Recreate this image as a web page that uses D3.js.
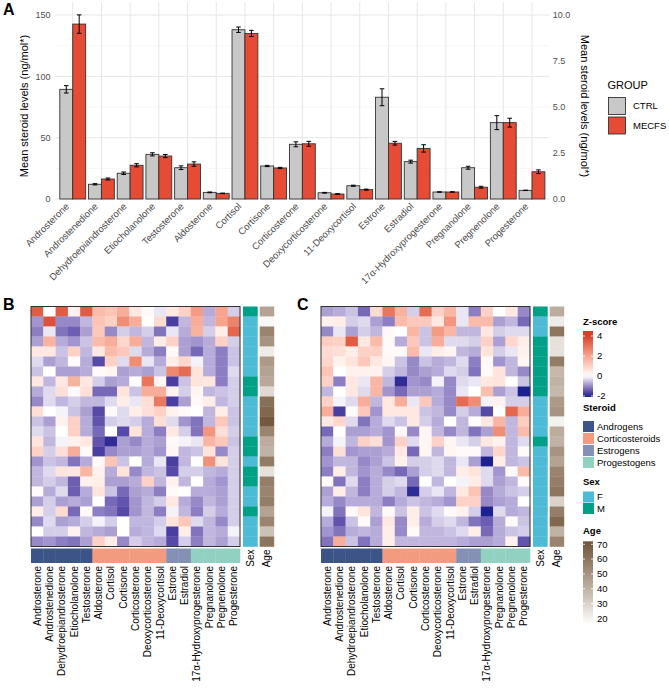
<!DOCTYPE html>
<html><head><meta charset="utf-8">
<script src="https://cdn.jsdelivr.net/npm/d3@7"></script>
<style>body{margin:0;background:#fff;} text{font-family:"Liberation Sans",Arial,Helvetica,sans-serif;}</style>
</head><body>
<script>
// ---------- DATA ----------
const steroids = ["Androsterone","Androstenedione","Dehydroepiandrosterone","Etiocholanolone","Testosterone","Aldosterone","Cortisol","Cortisone","Corticosterone","Deoxycorticosterone","11-Deoxycortisol","Estrone","Estradiol","17α-Hydroxyprogesterone","Pregnanolone","Pregnenolone","Progesterone"];
const groups = ["CTRL","MECFS"];
// secondary axis (ng/mol*, right) for the low-level steroids
const onRightAxis = [0,0,0,0,0,0,0,0,0,1,1,1,1,1,1,1,1];
const ctrlMean = [89.4,12.0,21.0,36.4,25.5,5.4,138,26.9,44.6, 0.34,0.72,5.53,2.03,0.38,1.70,4.15,0.47];
const ctrlErr  = [3.0,0.5,1.0,1.3,1.5,0.3,2.2,0.5,2.0, 0.02,0.03,0.46,0.08,0.01,0.08,0.38,0.01];
const mecfsMean= [142.6,16.3,27.5,35.0,28.5,4.6,135,25.3,45.0, 0.27,0.51,3.03,2.75,0.38,0.64,4.15,1.48];
const mecfsErr = [7.5,0.8,1.3,1.3,1.8,0.2,2.5,0.5,2.0, 0.02,0.03,0.10,0.20,0.01,0.05,0.24,0.10];
const leftTicks = [0,50,100,150];
const leftMinor = [25,75,125];
const rightTicks = [0,2.5,5,7.5,10];

const steroidClass = ["Androgens","Androgens","Androgens","Androgens","Androgens","Corticosteroids","Corticosteroids","Corticosteroids","Corticosteroids","Corticosteroids","Corticosteroids","Estrogens","Estrogens","Progestogens","Progestogens","Progestogens","Progestogens"];
const classNames = ["Androgens","Corticosteroids","Estrogens","Progestogens"];
const sexNames = ["F","M"];
const zTicks = [4,2,0,-2];
const ageTicks = [70,60,50,40,30,20];

const zB = [
[3.5,0,3.5,0.3,3.5,1.5,1.3,1.8,0.5,0.1,-0.2,0.5,1.0,2.2,-0.7,2.0,-0.4],
[-0.9,3.7,-1.0,-1.0,-0.6,1.3,1.0,2.5,1.8,0,0.8,-1.7,-0.6,1.8,-0.6,2.0,2.7],
[-1.1,-0.2,-1.2,-1.4,-0.8,1.2,-1.0,-0.4,-0.6,-0.4,-1.2,-0.2,-0.7,1.7,-0.4,0.4,3.3],
[-0.8,1.7,-0.7,-0.9,-0.5,1.5,1.8,0.9,1.8,-0.6,0.4,1.0,-0.8,-0.9,-0.7,1.0,-0.4],
[0.5,0.5,-0.5,1.0,-0.6,0.5,1.5,1.2,-0.3,-0.7,-1.1,0.1,-0.8,-1.3,-0.7,-1.1,-0.5],
[-0.3,-0.8,-0.6,0.1,-0.7,-1.6,1.0,-0.3,2.5,-0.2,-0.7,0.4,0.9,-0.1,-0.7,-1.1,-0.5],
[-0.5,0,-0.8,-0.8,-0.7,0.1,0.2,-0.8,-0.7,-0.8,-0.5,2.6,3.2,0.6,-0.7,-1.1,-0.3],
[0.5,-0.6,0.5,1.7,0.5,-0.4,-0.8,-0.7,0,3.0,0.2,-1.7,-0.5,0.6,0.5,-1.1,-0.4],
[-0.7,-0.3,0.7,0.1,0.7,-1.3,-1.3,0.6,-0.5,1.8,1.8,0.3,-0.4,0.2,-0.6,-0.5,-0.4],
[-1.0,-0.3,-0.6,-0.4,-0.6,-0.6,-0.3,0.4,-0.2,0.7,2.9,-1.7,-0.8,0.1,0.4,-0.6,-0.4],
[0.7,0,-0.1,-0.5,-0.8,-1.6,0.1,-0.3,0.4,0.7,1.0,0.3,0.1,0,-0.6,0.4,-0.5],
[-0.5,-0.8,0.3,1.0,-0.7,-1.5,-0.4,-0.3,-0.4,-0.7,0.7,-0.3,-0.9,-1.2,-0.6,1.2,-0.5],
[-0.3,-0.5,0,1.0,-0.7,-1.3,0,-1.6,0.6,-0.7,-1.1,0.5,-0.4,-1.2,2.3,0.7,-0.4],
[0.6,-0.6,-0.1,0.3,0.5,-1.5,-1.9,-0.8,-1.0,-0.7,-0.8,0.1,-0.1,-0.2,1.6,1.2,-0.5],
[1.0,-0.4,0.7,1.8,0.1,-1.7,-1.0,-0.8,-0.8,-0.7,-0.9,0.2,-0.6,-0.5,0.6,-1.0,-0.4],
[-0.9,-0.5,-0.6,-1.2,-0.7,0.1,1.3,-0.5,0,-0.7,-0.2,-1.7,-0.6,0,2.4,0.6,-0.4],
[-0.6,-0.3,0.6,0.5,1.6,0.3,-0.7,0.6,-1.0,-0.6,-0.5,-1.6,-0.4,-0.4,-0.6,-0.7,-0.4],
[-0.6,-0.4,-0.6,-1.4,0.3,0.4,-0.8,-0.8,-0.7,1.0,-0.6,0.3,-0.6,0,-0.7,-0.9,-0.4],
[0.1,-0.7,-0.3,-1.4,-0.7,0.6,-0.5,-1.3,-0.8,-0.7,-1.1,0.1,0,-0.7,-0.7,-0.8,-0.4],
[-0.8,-0.4,-0.8,-0.7,-0.8,0,-1.3,-1.5,-0.9,-0.6,-0.4,0.5,-0.7,-1.0,-0.6,-0.8,-0.4],
[0.4,-0.4,0.8,-1.3,0.1,-1.1,-1.2,-1.6,-0.9,-0.6,-1.1,-0.1,-0.6,-1.1,-0.4,-0.7,-0.4],
[-1.0,-0.3,-0.8,-0.7,-0.4,-0.1,-0.4,0,-0.6,-0.6,-0.4,0.6,1.2,-0.3,-0.6,-1.0,-0.4],
[0,-0.4,-0.4,0.3,-0.6,-0.7,-0.8,0,-0.7,-0.6,-0.3,-1.7,0.4,-1.2,-0.6,-0.7,-0.1],
[-1.0,-0.9,-1.1,-1.2,-0.8,1.0,0.4,-1.0,-0.4,-0.6,-0.7,-1.6,-0.4,-1.1,-0.6,-0.8,-0.4]
];
const sexB = ["M","F","F","F","F","F","F","M","M","F","F","F","F","M","M","F","M","M","F","F","M","F","F","F"];
const ageB = [45,18,55,50,22,48,45,43,28,62,65,70,55,42,40,58,25,57,55,57,45,55,35,60];

const zC = [
[-0.8,-0.7,-0.5,-1.3,0.8,3.0,1.7,-0.4,3.2,1.0,1.6,-0.2,-1.1,1.0,0,0.5,-1.0],
[0.3,0.4,-0.4,-0.3,-0.8,-1.1,1.5,1.2,1.2,0.5,2.3,-0.2,1.5,1.5,-0.8,-0.6,-1.3],
[-1.0,-0.2,-0.8,-0.4,-0.6,0.1,0,1.6,-0.5,2.2,1.6,-0.6,-0.6,0.5,-0.4,-0.3,-0.3],
[1.1,1.0,3.5,0.5,1.5,0.1,-0.7,1.2,-0.5,1.8,-0.3,-0.3,-0.4,1.0,-0.8,0.9,0.4],
[0.8,0.7,0.4,1.0,1.0,0.1,0.1,1.5,-0.2,0.4,0.2,-0.6,-0.7,0.6,-0.4,-0.2,0.3],
[0.9,0.3,0.6,1.2,0.5,0.2,-0.5,-1.0,-0.5,-0.7,-0.6,-0.3,-1.1,0.1,-0.9,-0.6,0.2],
[1.3,0,0.3,0.3,0.3,-0.4,-0.6,-1.0,-0.8,-0.7,-0.3,-0.4,-1.2,0.1,0.6,-0.6,-1.0],
[1.0,-1.1,0.5,-0.2,1.6,-0.6,-1.9,-0.9,-1.0,-0.1,-1.0,-0.3,-0.2,0.5,0.6,0,-0.5],
[-0.6,0,0.5,-0.3,1.6,-0.9,-1.3,-0.8,-0.8,-0.7,-1.0,-0.2,0,1.4,-0.8,-0.5,-2.1],
[1.0,-0.1,-0.3,1.8,-0.6,0.5,1.8,-0.2,1.2,-0.7,-1.0,3.2,2.5,-0.1,0.3,-0.4,-0.4],
[1.8,-1.7,0.1,1.2,-0.9,0.5,0.5,0.5,-0.5,-0.6,-1.0,-0.4,-0.7,-1.6,0,3.3,1.8],
[0.5,0.9,-0.3,-1.2,-0.7,-0.3,-0.5,0.5,-0.4,-0.7,0,-0.6,0,0.5,1.6,-0.6,1.1],
[-1.3,0,-0.8,-0.8,-0.7,-0.9,0.1,-1.0,0.2,-0.6,-1.0,-0.6,-1.2,-0.8,2.5,-0.6,1.5],
[-0.7,-0.1,-0.6,1.0,0.7,-0.9,1.0,-0.3,0.2,1.0,0.2,-0.2,-0.4,0.5,0.3,-0.6,-0.3],
[-1.1,0.7,-0.9,-0.8,-0.8,-0.7,0.5,-1.3,0.2,-0.6,0.2,0.1,0.1,-0.6,0.9,-0.6,0.1],
[-0.9,-0.6,-0.6,-1.0,-0.8,-0.5,0.3,-0.4,-0.4,-0.3,-0.6,-0.2,-0.8,-2.1,0.4,-0.6,-0.5],
[-1.1,0.4,-0.6,-0.9,-0.7,-1.0,-1.3,-0.8,-0.4,-0.3,-0.6,0.4,0.6,-0.3,-0.9,0.1,1.5],
[0.1,-1.2,-0.3,-1.1,-0.7,-0.4,-0.3,-1.3,0,-0.6,0,-0.1,0.4,-0.3,-0.8,-0.6,0.1],
[-0.8,0.4,-0.6,-1.1,-0.7,-0.4,-0.6,-1.9,-0.4,-0.2,-0.6,0.5,1.3,-1.0,-0.7,-0.5,-0.4],
[-0.7,-1.0,-0.7,-0.7,-0.7,-1.1,-0.7,-0.5,-0.6,-0.7,-0.9,1.0,1.0,-1.0,-0.8,-0.7,0],
[-0.1,-1.2,0.1,0.6,-0.6,0.1,-0.5,0.4,-0.5,-0.3,0.1,0.3,-0.4,-2.1,-0.3,-0.7,-0.6],
[-0.7,-1.5,-0.5,0.1,-0.8,0.5,-1.0,0.4,-0.7,-0.4,-0.3,-0.6,-1.2,-1.4,-0.7,0.1,-0.5],
[-0.9,-1.2,-0.7,-0.6,-0.7,0.4,-1.0,0.1,-0.6,-0.6,-0.5,-0.3,0.4,-1.3,-0.7,-0.5,-0.4],
[-1.2,1.8,-0.5,-1.2,-0.7,0.4,-0.6,-0.6,-0.6,-0.6,-0.6,-0.7,-0.8,-0.8,-0.7,0.3,-1.5]
];
const sexC = ["M","F","F","M","M","M","M","M","M","F","F","F","F","M","F","F","F","F","F","F","F","F","F","F"];
const ageC = [42,22,60,25,25,58,38,40,38,48,50,20,42,40,50,45,55,57,60,30,57,65,40,55];

// ---------- STYLE ----------
const barFill = {CTRL:"#c8c8c8", MECFS:"#E64B35"};
const classColor = d3.scaleOrdinal().domain(classNames).range(["#3C5488","#F39B7F","#8491B4","#91D1C2"]);
const sexColor = d3.scaleOrdinal().domain(sexNames).range(["#4DBBD5","#00A087"]);
const zColor = d3.scaleLinear().domain([-2,0,4]).range(["#1e2290","#ffffff","#d6402b"]).interpolate(d3.interpolateLab).clamp(true);
const ageColor = d3.scaleLinear().domain([16,72]).range(["#ffffff","#6f5438"]).interpolate(d3.interpolateLab).clamp(true);

const svg = d3.select("body").append("svg").attr("width",669).attr("height",689);

// ---------- PANEL A ----------
const x = d3.scaleBand().domain(steroids).range([55.5,549.2]).paddingInner(0.1).paddingOuter(0.15);
const xg = d3.scaleBand().domain(groups).range([0,x.bandwidth()]);
const yL = d3.scaleLinear().domain([0,150]).range([199,15]);
const yR = d3.scaleLinear().domain([0,10]).range([199,15]);
const A = svg.append("g");
const pTop = 2, pBottom = 199;
// grid
A.selectAll(".gmin").data(leftMinor).join("line").attr("x1",55.5).attr("x2",549.2)
  .attr("y1",d=>yL(d)).attr("y2",d=>yL(d)).attr("stroke","#f0f0f0").attr("stroke-width",0.6);
A.selectAll(".gmaj").data(leftTicks).join("line").attr("x1",55.5).attr("x2",549.2)
  .attr("y1",d=>yL(d)).attr("y2",d=>yL(d)).attr("stroke","#e6e6e6").attr("stroke-width",1);
A.selectAll(".gx").data(steroids).join("line").attr("x1",d=>x(d)+x.bandwidth()/2).attr("x2",d=>x(d)+x.bandwidth()/2)
  .attr("y1",pTop).attr("y2",pBottom).attr("stroke","#e6e6e6").attr("stroke-width",1);

// bars
const barData = [];
steroids.forEach((s,i)=>{
  const ys = onRightAxis[i] ? yR : yL;
  barData.push({s, g:"CTRL", v:ctrlMean[i], e:ctrlErr[i], ys});
  barData.push({s, g:"MECFS", v:mecfsMean[i], e:mecfsErr[i], ys});
});
A.selectAll(".bar").data(barData).join("rect")
  .attr("x",d=>x(d.s)+xg(d.g)).attr("width",xg.bandwidth())
  .attr("y",d=>d.ys(d.v)).attr("height",d=>d.ys(0)-d.ys(d.v))
  .attr("fill",d=>barFill[d.g]).attr("stroke","#333").attr("stroke-width",0.9);
const eb = A.selectAll(".eb").data(barData).join("g").attr("stroke","#000").attr("stroke-width",1);
eb.append("line").attr("x1",d=>x(d.s)+xg(d.g)+xg.bandwidth()/2).attr("x2",d=>x(d.s)+xg(d.g)+xg.bandwidth()/2)
  .attr("y1",d=>d.ys(d.v-d.e)).attr("y2",d=>d.ys(d.v+d.e));
[-1,1].forEach(sg=>{
  eb.append("line").attr("x1",d=>x(d.s)+xg(d.g)+xg.bandwidth()/2-2.3).attr("x2",d=>x(d.s)+xg(d.g)+xg.bandwidth()/2+2.3)
    .attr("y1",d=>d.ys(d.v+sg*d.e)).attr("y2",d=>d.ys(d.v+sg*d.e));
});

// axes
const axL = A.append("g").attr("transform","translate(55.5,0)").call(d3.axisLeft(yL).tickValues(leftTicks).tickSize(0).tickPadding(5));
const axR = A.append("g").attr("transform","translate(549.2,0)").call(d3.axisRight(yR).tickValues(rightTicks).tickSize(0).tickPadding(3.5).tickFormat(d3.format(".1f")));
const axB = A.append("g").attr("transform","translate(0,199)").call(d3.axisBottom(x).tickSize(0).tickFormat(""));
[axL,axR,axB].forEach(a=>{a.select(".domain").remove(); a.selectAll("text").attr("fill","#4d4d4d").attr("font-size","9px").attr("font-family","Liberation Sans, Arial, sans-serif");});
A.selectAll(".xl").data(steroids).join("text")
  .attr("transform",d=>`translate(${x(d)+x.bandwidth()/2-3},207) rotate(-45)`)
  .attr("text-anchor","end").attr("font-size","9.5px").attr("fill","#4d4d4d").text(d=>d);

A.append("text").attr("transform","translate(28,106) rotate(-90)").attr("text-anchor","middle")
  .attr("font-size","11px").attr("fill","#000").text("Mean steroid levels (ng/mol*)");
A.append("text").attr("transform","translate(581,106) rotate(90)").attr("text-anchor","middle")
  .attr("font-size","11px").attr("fill","#000").text("Mean steroid levels (ng/mol*)");

// legend
A.append("text").attr("x",607.5).attr("y",89).attr("font-size","11px").text("GROUP");
groups.forEach((g,i)=>{
  A.append("rect").attr("x",608.5).attr("y",97.5+i*19.5).attr("width",17).attr("height",17)
    .attr("fill",barFill[g]).attr("stroke","#333").attr("stroke-width",0.9);
  A.append("text").attr("x",633).attr("y",106+i*19.5).attr("dy","0.35em").attr("font-size","9.5px").text(g);
});
svg.append("text").attr("x",3).attr("y",14.5).attr("font-size","16px").attr("font-weight","bold").text("A");

// ---------- HEATMAPS ----------
function heat(x0,y0,z,sex,age,letter,lx){
  const g = svg.append("g");
  const cx = d3.scaleBand().domain(steroids).range([x0,x0+209]);
  const ry = d3.scaleBand().domain(d3.range(z.length)).range([y0,y0+240]);
  z.forEach((row,r)=>{
    g.selectAll(null).data(row).join("rect")
      .attr("x",(d,c)=>cx(steroids[c])).attr("y",ry(r)).attr("width",cx.bandwidth()+0.3).attr("height",ry.bandwidth()+0.3)
      .attr("fill",d=>zColor(d));
  });
  g.append("rect").attr("x",x0).attr("y",y0).attr("width",209).attr("height",240)
    .attr("fill","none").attr("stroke","#333").attr("stroke-width",1);
  // row annotations
  const sx = x0+209+3, ax = sx+14.7+2;
  g.selectAll(null).data(sex).join("rect").attr("x",sx).attr("width",14.7)
    .attr("y",(d,i)=>ry(i)).attr("height",ry.bandwidth()+0.3).attr("fill",d=>sexColor(d));
  g.selectAll(null).data(age).join("rect").attr("x",ax).attr("width",14.5)
    .attr("y",(d,i)=>ry(i)).attr("height",ry.bandwidth()+0.3).attr("fill",d=>ageColor(d));
  // column annotation
  g.selectAll(null).data(steroidClass).join("rect").attr("x",(d,i)=>cx(steroids[i])).attr("width",cx.bandwidth()+0.3)
    .attr("y",y0+240+2).attr("height",14.5).attr("fill",d=>classColor(d));
  // labels
  g.selectAll(null).data(steroids).join("text")
    .attr("transform",d=>`translate(${cx(d)+cx.bandwidth()/2},${y0+240+19.5}) rotate(-90)`)
    .attr("text-anchor","end").attr("dy","0.35em").attr("font-size","10px").attr("fill","#000").text(d=>d);
  [["Sex",sx+7.35],["Age",ax+7.25]].forEach(([t,xx])=>{
    g.append("text").attr("transform",`translate(${xx},${y0+243}) rotate(-90)`)
      .attr("text-anchor","end").attr("dy","0.35em").attr("font-size","10px").text(t);
  });
  svg.append("text").attr("x",lx).attr("y",310).attr("font-size","16px").attr("font-weight","bold").text(letter);
}
heat(31,306.5,zB,sexB,ageB,"B",3);
heat(321,306.5,zC,sexC,ageC,"C",297);

// ---------- HEATMAP LEGENDS ----------
const L = svg.append("g");
const lx0 = 583;
L.append("text").attr("x",lx0).attr("y",322).attr("dy","0.35em").attr("font-size","9.5px").attr("font-weight","bold").text("Z-score");
const zs = d3.scaleLinear().domain([4,-2]).range([336,396]);
const defs = svg.append("defs");
const grad = defs.append("linearGradient").attr("id","zg").attr("x1",0).attr("x2",0).attr("y1",0).attr("y2",1);
const zTop = 4.5, zBot = -2.1;
d3.range(0,1.0001,0.05).forEach(t=>{
  grad.append("stop").attr("offset",t).attr("stop-color",zColor(zTop+(zBot-zTop)*t));
});
L.append("rect").attr("x",lx0).attr("y",zs(zTop)).attr("width",10).attr("height",zs(zBot)-zs(zTop)).attr("fill","url(#zg)");
zTicks.forEach(t=>{
  L.append("line").attr("x1",lx0).attr("x2",lx0+2).attr("y1",zs(t)).attr("y2",zs(t)).attr("stroke","#fff").attr("stroke-width",0.8);
  L.append("line").attr("x1",lx0+8).attr("x2",lx0+10).attr("y1",zs(t)).attr("y2",zs(t)).attr("stroke","#fff").attr("stroke-width",0.8);
  L.append("text").attr("x",lx0+14).attr("y",zs(t)).attr("dy","0.35em").attr("font-size","9.5px").text(t);
});
L.append("text").attr("x",lx0).attr("y",408).attr("dy","0.35em").attr("font-size","9.5px").attr("font-weight","bold").text("Steroid");
classNames.forEach((c,i)=>{
  L.append("rect").attr("x",lx0).attr("y",421+i*12).attr("width",11).attr("height",11).attr("fill",classColor(c));
  L.append("text").attr("x",lx0+14).attr("y",426.5+i*12).attr("dy","0.35em").attr("font-size","9.5px").text(c);
});
L.append("text").attr("x",lx0).attr("y",482).attr("dy","0.35em").attr("font-size","9.5px").attr("font-weight","bold").text("Sex");
sexNames.forEach((c,i)=>{
  L.append("rect").attr("x",lx0).attr("y",491.5+i*11.5).attr("width",11).attr("height",11).attr("fill",sexColor(c));
  L.append("text").attr("x",lx0+14).attr("y",497+i*11.5).attr("dy","0.35em").attr("font-size","9.5px").text(c);
});
L.append("text").attr("x",lx0).attr("y",531).attr("dy","0.35em").attr("font-size","9.5px").attr("font-weight","bold").text("Age");
const as = d3.scaleLinear().domain([70,20]).range([544.3,618.3]);
const aTop = 72, aBot = 16;
const grad2 = defs.append("linearGradient").attr("id","ag").attr("x1",0).attr("x2",0).attr("y1",0).attr("y2",1);
d3.range(0,1.0001,0.1).forEach(t=>{
  grad2.append("stop").attr("offset",t).attr("stop-color",ageColor(aTop+(aBot-aTop)*t));
});
L.append("rect").attr("x",lx0).attr("y",as(aTop)).attr("width",10).attr("height",as(aBot)-as(aTop)).attr("fill","url(#ag)");
ageTicks.forEach(t=>{
  L.append("line").attr("x1",lx0).attr("x2",lx0+2).attr("y1",as(t)).attr("y2",as(t)).attr("stroke","#fff").attr("stroke-width",0.8);
  L.append("line").attr("x1",lx0+8).attr("x2",lx0+10).attr("y1",as(t)).attr("y2",as(t)).attr("stroke","#fff").attr("stroke-width",0.8);
  L.append("text").attr("x",lx0+14).attr("y",as(t)).attr("dy","0.35em").attr("font-size","9.5px").text(t);
});
</script>
</body></html>
